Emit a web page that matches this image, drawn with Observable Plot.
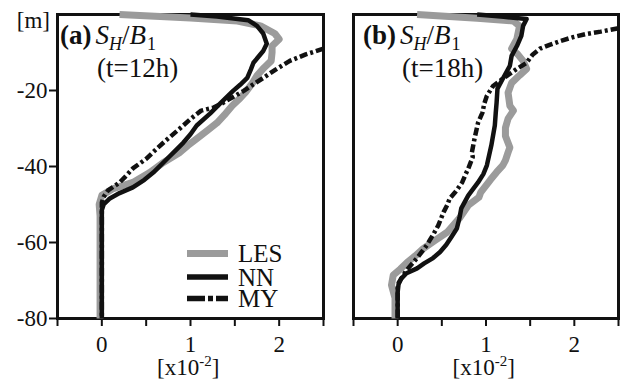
<!DOCTYPE html>
<html>
<head>
<meta charset="utf-8">
<script src="https://cdn.jsdelivr.net/npm/d3@7"></script>
<script src="https://cdn.jsdelivr.net/npm/@observablehq/plot@0.6"></script>
<style>
  html, body { margin: 0; padding: 0; background: white; }
  #chart { position: relative; width: 622px; height: 388px; overflow: hidden; background: white; }
  #chart svg { position: absolute; top: 0; overflow: visible; }
</style>
</head>
<body>
<div id="chart"></div>
<script>
// ---- Data (values in units of 1e-2, depth in m) ----
const xTicks = [-0.5, 0, 0.5, 1, 1.5, 2, 2.5];
const yTicks = [-80, -60, -40, -20];
const seriesNames = ["LES", "NN", "MY"];
const panelLabels = ["(a)", "(b)"];
const timeLabels = ["(t=12h)", "(t=18h)"];

// Panel (a), t = 12h
const lesA_depth = [0, -0.9, -1.7, -3.0, -5.0, -6.5, -8.3, -10, -12.2, -14, -16.1, -18, -20.5, -22, -24, -26.5, -28.5, -30.5, -32.7, -34.5, -36.3, -39, -41.6, -44.2, -45.8, -47.6, -50, -53, -80];
const lesA_val   = [0.20, 1.00, 1.53, 1.79, 1.95, 2.00, 1.92, 1.92, 1.91, 1.83, 1.75, 1.70, 1.62, 1.56, 1.47, 1.38, 1.30, 1.19, 1.07, 0.97, 0.88, 0.69, 0.54, 0.35, 0.13, 0.00, -0.03, -0.02, -0.02];
const nnA_depth  = [0, -0.5, -1.5, -3, -5, -7.7, -9.6, -12.7, -14.5, -16.7, -18.5, -20.1, -23.5, -26.1, -29.2, -31.5, -33.7, -35.8, -37.9, -41.6, -43.5, -45.5, -47, -48.4, -50, -51.5, -80];
const nnA_val    = [1.00, 1.30, 1.65, 1.75, 1.82, 1.86, 1.82, 1.71, 1.68, 1.64, 1.56, 1.48, 1.33, 1.22, 1.07, 1.00, 0.92, 0.83, 0.74, 0.58, 0.48, 0.35, 0.20, 0.09, 0.02, 0.00, 0.00];
const myA_depth  = [-9, -10.5, -12.2, -14.5, -16.7, -18.5, -20.1, -21.7, -23.2, -24.5, -25.3, -27.5, -30, -33.2, -35.3, -38, -40.5, -42.8, -44.2, -46.3, -48, -49.5, -80];
const myA_val    = [2.50, 2.30, 2.12, 1.96, 1.82, 1.70, 1.60, 1.48, 1.37, 1.26, 1.12, 1.00, 0.88, 0.72, 0.62, 0.50, 0.35, 0.26, 0.20, 0.07, 0.02, 0.00, 0.00];

// Panel (b), t = 18h
const lesB_depth = [0, -1.0, -1.7, -3, -6.4, -9, -10.5, -12.2, -14.3, -16, -18, -20.6, -24, -25.3, -27.4, -29.8, -32, -35, -36.3, -38.4, -39.7, -41.5, -43.5, -46.8, -48.1, -50.2, -53.6, -57.3, -59.5, -61.6, -63.5, -65.2, -67, -68.6, -71.2, -74.6, -80];
const lesB_val   = [0.22, 0.90, 1.31, 1.38, 1.35, 1.29, 1.36, 1.42, 1.46, 1.38, 1.29, 1.25, 1.27, 1.31, 1.25, 1.22, 1.22, 1.27, 1.25, 1.22, 1.19, 1.12, 1.05, 0.94, 0.92, 0.80, 0.70, 0.56, 0.42, 0.29, 0.20, 0.11, 0.03, -0.05, -0.07, -0.03, -0.03];
const nnB_depth  = [0, -0.6, -1.2, -3, -5.6, -8.3, -10.9, -13.5, -16.9, -19.5, -23.2, -26, -29.2, -34.5, -39.7, -42, -44.2, -47.6, -51, -53.5, -56.3, -58.5, -60.6, -62.5, -64.1, -65.5, -66.8, -68.1, -69.5, -71, -73, -80];
const nnB_val    = [0.90, 1.20, 1.46, 1.42, 1.40, 1.35, 1.29, 1.27, 1.19, 1.13, 1.12, 1.11, 1.10, 1.06, 1.01, 0.97, 0.91, 0.80, 0.72, 0.70, 0.67, 0.61, 0.55, 0.48, 0.40, 0.30, 0.22, 0.10, 0.04, 0.01, 0.00, 0.00];
const myB_depth  = [-3.6, -4.5, -5.1, -6, -7, -8, -9, -10.5, -12.7, -14.3, -16.9, -18.8, -21.4, -23.5, -25.8, -28.5, -32.7, -36.3, -37.5, -40.5, -42, -44.2, -46.5, -48.4, -50.2, -52, -55.5, -58, -60.7, -64.1, -67.3, -69.9, -71, -80];
const myB_val    = [2.50, 2.30, 2.14, 1.98, 1.84, 1.72, 1.61, 1.53, 1.46, 1.35, 1.19, 1.08, 1.01, 0.98, 0.96, 0.91, 0.87, 0.84, 0.85, 0.80, 0.77, 0.73, 0.66, 0.59, 0.56, 0.52, 0.46, 0.40, 0.33, 0.22, 0.10, 0.03, 0.00, 0.00];

// ---- Styles ----
const FONT = "'Liberation Serif', 'Times New Roman', Times, serif";
const GRAY = "#9b9b9b";
const INK = "#111";
const MY_DASH = "8,3,3,3";

const toRows = (depth, val) => depth.map((d, i) => ({d, v: val[i]}));

function panel(opts) {
  const {width, left, marginLeft, marginRight, les, nn, my, showY} = opts;
  const marks = [
    Plot.frame({stroke: INK, strokeWidth: 3}),
    Plot.axisX({ticks: xTicks, tickSize: 8, tickPadding: 9, strokeWidth: 2, stroke: INK,
      tickFormat: d => Number.isInteger(d) ? String(d) : "", label: null, fill: INK}),
    Plot.line(les, {x: "v", y: "d", stroke: GRAY, strokeWidth: 7, strokeLinejoin: "round", strokeLinecap: "butt"}),
    Plot.line(nn, {x: "v", y: "d", stroke: INK, strokeWidth: 4.5, strokeLinejoin: "round", strokeLinecap: "butt"}),
    Plot.line(my, {x: "v", y: "d", stroke: INK, strokeWidth: 4.5, strokeDasharray: MY_DASH, strokeLinejoin: "round", strokeLinecap: "butt"})
  ];
  if (showY) {
    marks.splice(1, 0, Plot.axisY({ticks: yTicks, tickSize: 8, tickPadding: 2, strokeWidth: 2, stroke: INK,
      tickFormat: d => String(d), label: null, fill: INK}));
  }
  const svg = Plot.plot({
    width, height: 388,
    marginLeft, marginRight, marginTop: 14, marginBottom: 70,
    x: {domain: [-0.5, 2.5]},
    y: showY ? {domain: [-80, 0]} : {domain: [-80, 0], axis: null},
    style: {fontFamily: FONT, fontSize: "23px", background: "transparent", color: INK},
    marks
  });
  svg.style.left = left + "px";
  return svg;
}

const chart = document.getElementById("chart");

const svgA = panel({width: 325, left: 0, marginLeft: 57, marginRight: 2,
  les: toRows(lesA_depth, lesA_val), nn: toRows(nnA_depth, nnA_val), my: toRows(myA_depth, myA_val), showY: true});
const svgB = panel({width: 297, left: 325, marginLeft: 28, marginRight: 4,
  les: toRows(lesB_depth, lesB_val), nn: toRows(nnB_depth, nnB_val), my: toRows(myB_depth, myB_val), showY: false});
chart.appendChild(svgA);
chart.appendChild(svgB);

function annotate(svg, idx, frameLeft, titleDx, timeDx) {
  const sx = svg.scale("x");
  const g = d3.select(svg).append("g").attr("fill", INK).attr("font-family", FONT);
  // x-axis unit label
  const xl = g.append("text").attr("x", sx.apply(0.98)).attr("y", 375)
    .attr("text-anchor", "middle").attr("font-size", 23);
  xl.append("tspan").text("[x10");
  xl.append("tspan").attr("font-size", 15).attr("dy", -9).text("-2");
  xl.append("tspan").attr("dy", 9).text("]");
  // title
  const t = g.append("text").attr("x", frameLeft + titleDx).attr("y", 44)
    .attr("text-anchor", "start").attr("font-size", 27);
  t.append("tspan").attr("font-weight", "bold").text(panelLabels[idx]);
  t.append("tspan").attr("font-style", "italic").attr("dx", 4).text("S");
  t.append("tspan").attr("font-style", "italic").attr("font-size", 18).attr("dy", 6).text("H");
  t.append("tspan").attr("dy", -6).text("/");
  t.append("tspan").attr("font-style", "italic").text("B");
  t.append("tspan").attr("font-size", 18).attr("dy", 6).attr("dx", 1).text("1");
  g.append("text").attr("x", frameLeft + timeDx).attr("y", 77)
    .attr("text-anchor", "start").attr("font-size", 27).text(timeLabels[idx]);
}

annotate(svgA, 0, 57, 3, 40);
annotate(svgB, 1, 28, 10, 49);

// [m] unit label for y-axis
d3.select(svgA).append("text").attr("x", 50).attr("y", 28).attr("text-anchor", "end")
  .attr("font-family", FONT).attr("font-size", 23).attr("fill", INK).text("[m]");

// Legend in panel (a)
const lg = d3.select(svgA).append("g").attr("font-size", 25).attr("fill", INK)
  .attr("font-family", FONT).attr("text-anchor", "start");
const legendStyles = [
  {stroke: GRAY, width: 7, dash: null},
  {stroke: INK, width: 5.5, dash: null},
  {stroke: INK, width: 5.5, dash: "18,3,5,3"}
];
const legendY = [253.5, 277, 298.5];
seriesNames.forEach((name, i) => {
  const s = legendStyles[i];
  lg.append("line").attr("x1", 187).attr("x2", 228).attr("y1", legendY[i]).attr("y2", legendY[i])
    .attr("stroke", s.stroke).attr("stroke-width", s.width).attr("stroke-dasharray", s.dash);
  lg.append("text").attr("x", 238).attr("y", legendY[i] + 8.5).text(name);
});
</script>
</body>
</html>
